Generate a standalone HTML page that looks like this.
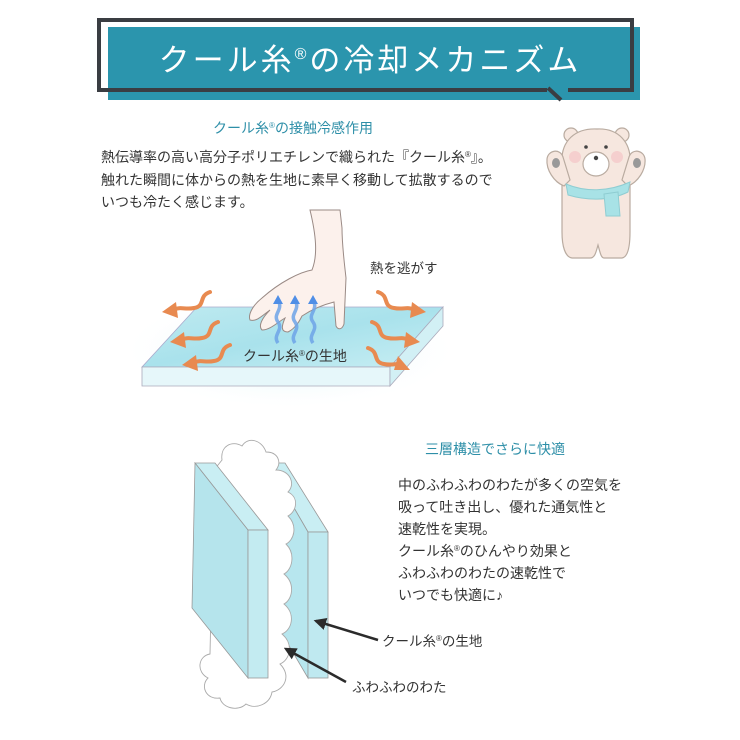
<!DOCTYPE html>
<html><head><meta charset="utf-8"><style>
html,body{margin:0;padding:0;background:#fff}
svg{display:block}
text{font-family:"Liberation Sans","Noto Sans CJK JP",sans-serif}
</style></head><body>
<svg width="740" height="740" viewBox="0 0 740 740" xmlns="http://www.w3.org/2000/svg">
<defs>
<linearGradient id="blue" x1="0" y1="0" x2="1" y2="1">
<stop offset="0" stop-color="#bfeaf0"/><stop offset="0.5" stop-color="#a9e2ec"/><stop offset="1" stop-color="#c8eef3"/></linearGradient>
<radialGradient id="glow" cx="0.5" cy="0.5" r="0.5"><stop offset="0" stop-color="#c8f0f6"/><stop offset="1" stop-color="#ffffff" stop-opacity="0"/></radialGradient>
<marker id="ah" viewBox="0 0 10 10" refX="8" refY="5" markerWidth="5" markerHeight="5" orient="auto"><path d="M0,0L10,5L0,10z" fill="#2b2b2b"/></marker>
</defs>
<rect x="108" y="27" width="532" height="73" fill="#2b95ad"/>
<path d="M547,90 L99,90 L99,20 L632,20 L632,90 L568,90" fill="none" stroke="#3a3d42" stroke-width="4"/>
<line x1="548" y1="88" x2="561" y2="100" stroke="#3a3d42" stroke-width="4"/>
<text x="370" y="71" text-anchor="middle" font-size="31" fill="#fff" letter-spacing="3">クール糸<tspan font-size="16" dy="-12">®</tspan><tspan dy="12">の冷却メカニズム</tspan></text>
<text x="293" y="133" text-anchor="middle" font-size="14" fill="#2e8fa8">クール糸<tspan font-size="8" dy="-5">®</tspan><tspan dy="5">の接触冷感作用</tspan></text>
<g font-size="14" fill="#333">
<text x="101" y="162">熱伝導率の高い高分子ポリエチレンで織られた『クール糸<tspan font-size="8" dy="-5">®</tspan><tspan dy="5">』。</tspan></text>
<text x="101" y="185">触れた瞬間に体からの熱を生地に素早く移動して拡散するので</text>
<text x="101" y="207">いつも冷たく感じます。</text>
</g>
<g stroke="#b9aba0" stroke-width="1.2" fill="#f6e7df">
<circle cx="571" cy="135" r="7"/><circle cx="622" cy="135" r="7"/>
<path d="M562,165 C560,140 576,128 597,129 C618,128 632,142 630,165 L630,232 C630,246 628,257 622,258 L604,258 C601,258 600,252 598,245 C596,252 595,258 590,258 L572,258 C565,257 562,246 562,232z"/>
<path d="M564,186 C554,182 546,170 547,159 C548,150 560,148 563,157 L570,180z"/>
<path d="M628,186 C638,182 646,170 645,159 C644,150 632,148 629,157 L622,180z"/>
<ellipse cx="596" cy="164" rx="13" ry="12" fill="#fff"/>
</g>
<ellipse cx="556" cy="163" rx="4" ry="5" fill="#999"/><ellipse cx="637" cy="163" rx="4" ry="5" fill="#999"/>
<circle cx="586" cy="147" r="1.8" fill="#444"/><circle cx="606" cy="147" r="1.8" fill="#444"/>
<circle cx="596" cy="158" r="2.2" fill="#444"/>
<circle cx="575" cy="157" r="6" fill="#f5c9c9" opacity="0.8"/><circle cx="617" cy="157" r="6" fill="#f5c9c9" opacity="0.8"/>
<path d="M566,184 C585,192 608,192 630,182 L628,192 C608,202 585,200 568,195z" fill="#a8e2e6" stroke="#8fcdd2"/>
<path d="M604,194 L618,192 L620,216 L606,216z" fill="#a8e2e6" stroke="#8fcdd2"/>
<ellipse cx="290" cy="350" rx="170" ry="60" fill="url(#glow)"/>
<path d="M197,307 L443,307 L390,367 L142,367z" fill="url(#blue)" stroke="#aac" stroke-width="0.8"/>
<path d="M142,367 L390,367 L390,386 L142,386z" fill="#e6f7fa" stroke="#aab" stroke-width="0.8"/>
<path d="M390,367 L443,307 L443,326 L390,386z" fill="#d2f0f5" stroke="#aab" stroke-width="0.8"/>
<path d="M310,210 C316,235 318,255 312,270 C300,272 280,282 262,298 C252,306 248,315 250,320 C256,322 262,316 270,310 C262,318 258,326 262,330 C270,330 278,322 285,318 C282,325 280,332 288,332 C296,328 300,320 302,316 C308,312 318,306 334,302 L336,326 C338,330 342,330 344,324 L346,278 C344,260 342,245 342,228 L340,210z" fill="#fcf1ec" stroke="#9a8a85" stroke-width="1"/>
<g stroke="#6ea4e8" stroke-width="3.5" fill="none" opacity="0.85">
<path d="M278,343 C272,335 284,330 278,322 C272,314 284,310 278,300"/>
<path d="M295,343 C289,335 301,330 295,322 C289,314 301,310 295,300"/>
<path d="M313,343 C307,335 319,330 313,322 C307,314 319,310 313,300"/>
</g>
<g fill="#4f8ee6"><path d="M273,304 L278,295 L283,304z"/><path d="M290,304 L295,295 L300,304z"/><path d="M308,304 L313,295 L318,304z"/></g>
<g stroke="#e88a50" stroke-width="4" fill="none" stroke-linecap="round">
<path d="M210,292 C198,296 206,306 194,308 C184,310 182,306 172,310"/>
<path d="M218,322 C206,326 214,336 202,338 C192,340 190,336 180,340"/>
<path d="M230,345 C218,349 226,359 214,361 C204,363 202,359 192,363"/>
<path d="M378,292 C390,296 382,306 394,308 C404,310 406,306 416,310"/>
<path d="M372,322 C384,326 376,336 388,338 C398,340 400,336 410,340"/>
<path d="M368,348 C380,352 372,362 384,364 C394,366 396,362 402,366"/>
</g>
<g fill="#e88a50">
<path d="M162,312 L176,302 L178,318z"/><path d="M170,342 L184,332 L186,348z"/><path d="M182,365 L196,355 L198,371z"/>
<path d="M426,312 L412,302 L410,318z"/><path d="M420,342 L406,332 L404,348z"/><path d="M410,370 L398,356 L394,370z"/>
</g>
<text x="370" y="273" font-size="13.5" fill="#333">熱を逃がす</text>
<text x="243" y="361" font-size="14" fill="#333">クール糸<tspan font-size="8" dy="-5">®</tspan><tspan dy="5">の生地</tspan></text>
<text x="425" y="454" font-size="14" fill="#2e8fa8">三層構造でさらに快適</text>
<g font-size="14" fill="#333">
<text x="398" y="490">中のふわふわのわたが多くの空気を</text>
<text x="398" y="512">吸って吐き出し、優れた通気性と</text>
<text x="398" y="534">速乾性を実現。</text>
<text x="398" y="556">クール糸<tspan font-size="8" dy="-5">®</tspan><tspan dy="5">のひんやり効果と</tspan></text>
<text x="398" y="578">ふわふわのわたの速乾性で</text>
<text x="398" y="600">いつでも快適に♪</text>
</g>
<path d="M268,463 L285,463 L328,532 L308,532z" fill="#c9eef3" stroke="#999" stroke-width="0.8"/>
<path d="M268,463 L308,532 L308,678 L268,610z" fill="#b7e6ee" stroke="#999" stroke-width="0.8"/>
<rect x="308" y="532" width="20" height="146" fill="#bfe9f0" stroke="#999" stroke-width="0.8"/>
<path d="M222,460 C220,446 232,440 242,446 C248,436 262,440 266,452 C278,452 282,462 276,470 C290,470 296,484 288,492 C300,498 296,512 288,516 C298,526 294,540 286,544 C296,554 292,570 284,574 C296,584 292,600 284,604 C296,614 292,630 282,634 C294,644 290,660 280,664 C292,676 284,690 272,692 C270,704 256,710 246,704 C238,712 222,708 220,698 C206,700 200,686 208,678 C196,672 198,656 210,654 L214,470z" fill="#fff" stroke="#aaa" stroke-width="0.9"/>
<path d="M195,463 L215,463 L268,530 L248,530z" fill="#c9eef3" stroke="#999" stroke-width="0.8"/>
<path d="M195,463 L248,530 L248,678 L192,608z" fill="#b5e4ec" stroke="#999" stroke-width="0.8"/>
<rect x="248" y="530" width="20" height="148" fill="#c3ebf1" stroke="#999" stroke-width="0.8"/>
<line x1="378" y1="640" x2="316" y2="621" stroke="#2b2b2b" stroke-width="2.5" marker-end="url(#ah)"/>
<line x1="346" y1="682" x2="286" y2="649" stroke="#2b2b2b" stroke-width="2.5" marker-end="url(#ah)"/>
<text x="382" y="646" font-size="13.5" fill="#333">クール糸<tspan font-size="8" dy="-5">®</tspan><tspan dy="5">の生地</tspan></text>
<text x="352" y="692" font-size="13.5" fill="#333">ふわふわのわた</text>
</svg>
</body></html>
